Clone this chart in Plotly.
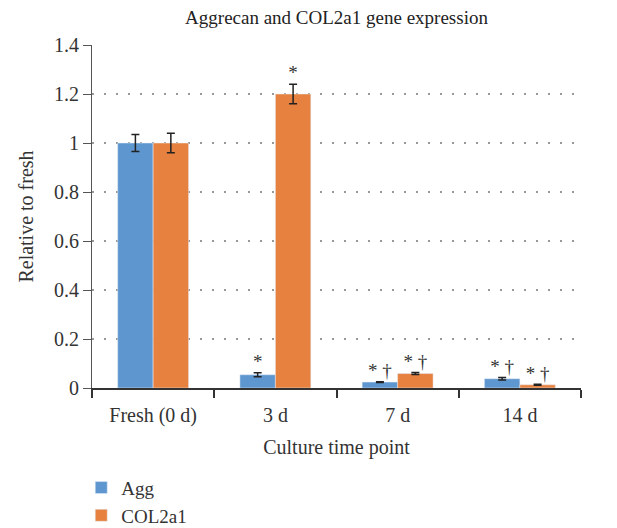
import plotly.graph_objects as go

categories = ["Fresh (0 d)", "3 d", "7 d", "14 d"]
agg_values = [1.0, 0.054, 0.024, 0.038]
agg_errors = [0.035, 0.008, 0.002, 0.005]
col_values = [1.0, 1.2, 0.059, 0.013]
col_errors = [0.04, 0.04, 0.004, 0.002]
agg_marks = ["", "*", "* †", "* †"]
col_marks = ["", "*", "* †", "* †"]

AGG_COLOR = "#5E97D0"
COL_COLOR = "#E7813F"
FONT = "Liberation Serif"
FS = 20

fig = go.Figure()
fig.add_trace(go.Bar(name="Agg", x=categories, y=agg_values, marker_color=AGG_COLOR,
                     offsetgroup="a",
                     error_y=dict(type="data", array=agg_errors, color="#222", thickness=1.5, width=4)))
fig.add_trace(go.Bar(name="COL2a1", x=categories, y=col_values, marker_color=COL_COLOR,
                     offsetgroup="b",
                     error_y=dict(type="data", array=col_errors, color="#222", thickness=1.5, width=4)))

fig.add_trace(go.Scatter(x=categories, y=[v + e for v, e in zip(agg_values, agg_errors)],
                         text=agg_marks, mode="text", textposition="top center",
                         offsetgroup="a", showlegend=False, hoverinfo="skip",
                         textfont=dict(family=FONT, size=19, color="#333")))
fig.add_trace(go.Scatter(x=categories, y=[v + e for v, e in zip(col_values, col_errors)],
                         text=col_marks, mode="text", textposition="top center",
                         offsetgroup="b", showlegend=False, hoverinfo="skip",
                         textfont=dict(family=FONT, size=19, color="#333")))

fig.update_layout(
    width=609, height=520,
    margin=dict(l=84, r=36, t=37, b=140),
    barmode="group", scattermode="group", bargap=0.42, bargroupgap=0,
    plot_bgcolor="white", paper_bgcolor="white",
    font=dict(family=FONT, size=FS, color="#333"),
    title=dict(text="Aggrecan and COL2a1 gene expression", x=0.5, xanchor="center",
               xref="paper", y=0.982, yanchor="middle", font=dict(family=FONT, size=19, color="#222")),
    legend=dict(x=-0.022, y=0.114, xref="paper", yref="container", xanchor="left", yanchor="top",
                orientation="v", font=dict(family=FONT, size=19, color="#333"),
                itemwidth=30, tracegroupgap=0),
    xaxis=dict(type="category", tickson="boundaries", ticks="outside", ticklen=8, tickwidth=1.5,
               tickcolor="#333", showline=True, linecolor="#333", linewidth=1.5,
               ticklabelstandoff=8, automargin=False,
               showgrid=False, title=dict(text="Culture time point", standoff=14,
                                          font=dict(family=FONT, size=FS, color="#333"))),
    yaxis=dict(range=[0, 1.4], dtick=0.2, ticks="outside", ticklen=8, tickwidth=1.2,
               tickcolor="#555", showline=True, linecolor="#555", linewidth=1.2,
               showgrid=True, gridcolor="#999", griddash="2px,10px", gridwidth=1.5,
               zeroline=False, automargin=False,
               title=dict(text="Relative to fresh", standoff=14,
                          font=dict(family=FONT, size=FS, color="#333"))),
)

fig.write_html("out.html")
